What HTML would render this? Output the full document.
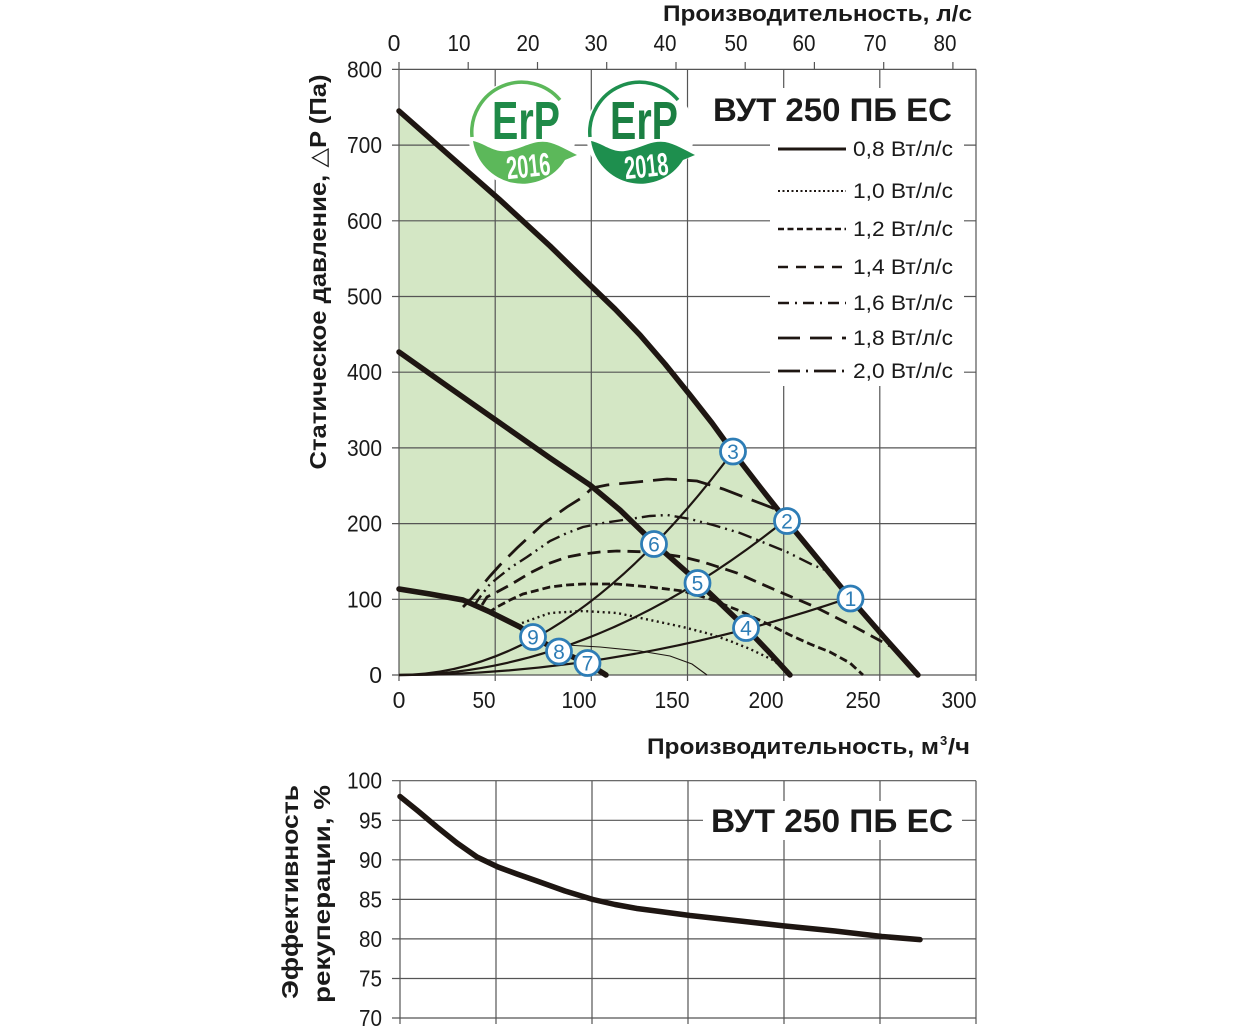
<!DOCTYPE html>
<html><head><meta charset="utf-8"><style>
html,body{margin:0;padding:0;background:#fff;}
svg{display:block;}
text{font-family:"Liberation Sans","DejaVu Sans",sans-serif;}
</style></head><body>
<svg width="1256" height="1027" viewBox="0 0 1256 1027" xmlns="http://www.w3.org/2000/svg">
<rect x="0" y="0" width="1256" height="1027" fill="#fff"/>

<!-- ===== MAIN CHART ===== -->
<path d="M399,675 L399,111 L450,156 L500,200 L550,246 L590,285 L615,309 L640,335 L665,364 L690,395 L712,423 L733,452 L760,487 L786,520 L818,559 L850,598 L884,637 L918,675 Z" fill="#d4e7c5"/>

<g stroke="#555" stroke-width="1.2" fill="none">
  <line x1="392" y1="69.4" x2="976" y2="69.4"/>
  <line x1="392" y1="145.1" x2="976" y2="145.1"/>
  <line x1="392" y1="220.8" x2="976" y2="220.8"/>
  <line x1="392" y1="296.5" x2="976" y2="296.5"/>
  <line x1="392" y1="372.2" x2="976" y2="372.2"/>
  <line x1="392" y1="447.9" x2="976" y2="447.9"/>
  <line x1="392" y1="523.6" x2="976" y2="523.6"/>
  <line x1="392" y1="599.3" x2="976" y2="599.3"/>
  <line x1="392" y1="675" x2="976" y2="675"/>
  <line x1="399" y1="69.4" x2="399" y2="681"/>
  <line x1="495.2" y1="69.4" x2="495.2" y2="681"/>
  <line x1="591.3" y1="69.4" x2="591.3" y2="681"/>
  <line x1="687.5" y1="69.4" x2="687.5" y2="681"/>
  <line x1="783.7" y1="69.4" x2="783.7" y2="681"/>
  <line x1="879.8" y1="69.4" x2="879.8" y2="681"/>
  <line x1="976" y1="69.4" x2="976" y2="681"/>
  <line x1="399" y1="62" x2="399" y2="69.4"/>
  <line x1="468.2" y1="62" x2="468.2" y2="69.4"/>
  <line x1="537.5" y1="62" x2="537.5" y2="69.4"/>
  <line x1="606.7" y1="62" x2="606.7" y2="69.4"/>
  <line x1="676" y1="62" x2="676" y2="69.4"/>
  <line x1="745.2" y1="62" x2="745.2" y2="69.4"/>
  <line x1="814.4" y1="62" x2="814.4" y2="69.4"/>
  <line x1="883.7" y1="62" x2="883.7" y2="69.4"/>
  <line x1="952.9" y1="62" x2="952.9" y2="69.4"/>
</g>

<rect x="704" y="88" width="258" height="42" fill="#fff"/>
<rect x="770" y="128" width="194" height="258" fill="#fff"/>

<!-- ErP logo 2016 -->
<g transform="translate(522,133)">
  <circle cx="0" cy="0" r="54" fill="#fff"/>
  <path d="M-50,4 A50 50 0 0 1 38,-33" fill="none" stroke="#5cb85a" stroke-width="3.5"/>
  <path d="M-49,8 C-38,10 -28,20 -15,18 C0,16 10,7 25,9 C35,11 45,17 55,22 L43,27 A50 50 0 0 1 -49,8 Z" fill="#5cb85a"/>
  <text x="4" y="6" text-anchor="middle" font-size="54" font-weight="bold" fill="#1f8a48" textLength="68" lengthAdjust="spacingAndGlyphs">ErP</text>
  <text x="6" y="44" text-anchor="middle" font-size="32" font-weight="bold" fill="#fff" textLength="44" lengthAdjust="spacingAndGlyphs" transform="rotate(-6 6 30)">2016</text>
</g>
<!-- ErP logo 2018 -->
<g transform="translate(640,133)">
  <circle cx="0" cy="0" r="54" fill="#fff"/>
  <path d="M-50,4 A50 50 0 0 1 38,-33" fill="none" stroke="#1e8f4e" stroke-width="3.5"/>
  <path d="M-49,8 C-38,10 -28,20 -15,18 C0,16 10,7 25,9 C35,11 45,17 55,22 L43,27 A50 50 0 0 1 -49,8 Z" fill="#1e8f4e"/>
  <text x="4" y="6" text-anchor="middle" font-size="54" font-weight="bold" fill="#1b7f42" textLength="68" lengthAdjust="spacingAndGlyphs">ErP</text>
  <text x="6" y="44" text-anchor="middle" font-size="32" font-weight="bold" fill="#fff" textLength="44" lengthAdjust="spacingAndGlyphs" transform="rotate(-6 6 30)">2018</text>
</g>

<!-- system curves -->
<g fill="none" stroke="#1e1612" stroke-width="2.2">
  <path d="M399,675 Q566,675 733.1,451.4"/>
  <path d="M399,675 Q592.3,675 785.6,519.9"/>
  <path d="M399,675 Q624.5,675 850,597.6"/>
  <polyline stroke-width="1.1" points="566,645 600,647 640,651 670,656 692,664 707,675"/>
</g>

<!-- specific power curves -->
<g fill="none" stroke="#1e1612">
  <polyline stroke-width="2.4" stroke-dasharray="2 3.5" points="522,623 550,613 583,611 617,613 650,620 683,627 710,634 730,641 750,649 773,660 783,668 788,674"/>
  <polyline stroke-width="2.8" stroke-dasharray="8 4" points="488,613 497,607 510,600 523,594 550,587 567,585 583,584 617,584 650,587 683,591 710,599 740,611 770,625 790,635 810,644 830,652 850,663 863,675"/>
  <polyline stroke-width="2.8" stroke-dasharray="13 7" points="482,605 487,597 497,592 510,585 530,573 550,563 567,557 583,554 600,552 617,551 650,552 683,557 703,562 737,573 757,582 780,592 813,606 853,626 890,646"/>
  <polyline stroke-width="2.4" stroke-dasharray="14 5 2 5 2 5" points="473,607 480,597 490,584 500,576 510,568 527,557 550,541 567,533 583,527 603,523 623,520 650,516 667,515 690,519 713,525 740,533 787,552 813,565 830,572"/>
  <polyline stroke-width="2.8" stroke-dasharray="24 10" points="463,607 472,598 480,588 490,576 500,565 517,548 543,524 567,507 583,497 592,488 607,485 637,482 667,479 697,481 723,489 757,502 778,510"/>
</g>

<!-- thick fan curves -->
<g fill="none" stroke="#1e1612" stroke-width="5.5" stroke-linejoin="round" stroke-linecap="round">
  <polyline points="399,111 450,156 500,200 550,246 590,285 615,309 640,335 665,364 690,395 712,423 733,452 760,487 786,520 818,559 850,598 884,637 918,675"/>
  <polyline points="399,352 450,388 500,423 550,458 590,485 620,510 654,543 698,582 746,628 768,651 790,675"/>
  <polyline points="399,589 430,594 463,600 490,612 520,627 533,637 559,651 587,663 606,675"/>
</g>

<!-- numbered markers -->
<g font-size="21" fill="#2e7db6" text-anchor="middle">
  <g><circle cx="850.5" cy="598.5" r="12.5" fill="#fff" stroke="#2e7db6" stroke-width="2.8"/><text x="850.5" y="606">1</text></g>
  <g><circle cx="787" cy="521" r="12.5" fill="#fff" stroke="#2e7db6" stroke-width="2.8"/><text x="787" y="528.5">2</text></g>
  <g><circle cx="733" cy="451.5" r="12.5" fill="#fff" stroke="#2e7db6" stroke-width="2.8"/><text x="733" y="459">3</text></g>
  <g><circle cx="746" cy="628" r="12.5" fill="#fff" stroke="#2e7db6" stroke-width="2.8"/><text x="746" y="635.5">4</text></g>
  <g><circle cx="697.5" cy="583" r="12.5" fill="#fff" stroke="#2e7db6" stroke-width="2.8"/><text x="697.5" y="590.5">5</text></g>
  <g><circle cx="654" cy="544" r="12.5" fill="#fff" stroke="#2e7db6" stroke-width="2.8"/><text x="654" y="551.5">6</text></g>
  <g><circle cx="587.5" cy="663" r="12.5" fill="#fff" stroke="#2e7db6" stroke-width="2.8"/><text x="587.5" y="670.5">7</text></g>
  <g><circle cx="559" cy="651.5" r="12.5" fill="#fff" stroke="#2e7db6" stroke-width="2.8"/><text x="559" y="659">8</text></g>
  <g><circle cx="533" cy="637" r="12.5" fill="#fff" stroke="#2e7db6" stroke-width="2.8"/><text x="533" y="644.5">9</text></g>
</g>

<!-- title & legend -->
<text x="713" y="121" font-size="32" font-weight="bold" fill="#1a1a1a" textLength="239" lengthAdjust="spacingAndGlyphs">ВУТ 250 ПБ ЕС</text>
<g stroke="#1e1612" fill="none">
  <line x1="778" y1="149" x2="846" y2="149" stroke-width="3"/>
  <line x1="778" y1="191" x2="846" y2="191" stroke-width="2" stroke-dasharray="2 2.5"/>
  <line x1="778" y1="229" x2="846" y2="229" stroke-width="2.6" stroke-dasharray="6 3.5"/>
  <line x1="778" y1="267" x2="846" y2="267" stroke-width="2.6" stroke-dasharray="10 8"/>
  <line x1="778" y1="303" x2="846" y2="303" stroke-width="2.6" stroke-dasharray="11 6 2 6"/>
  <line x1="778" y1="338" x2="846" y2="338" stroke-width="2.8" stroke-dasharray="22 10"/>
  <line x1="778" y1="371" x2="846" y2="371" stroke-width="2.8" stroke-dasharray="22 6 2 6"/>
</g>
<g font-size="21" fill="#1a1a1a">
  <text x="853" y="156" textLength="100" lengthAdjust="spacingAndGlyphs">0,8 Вт/л/с</text>
  <text x="853" y="198" textLength="100" lengthAdjust="spacingAndGlyphs">1,0 Вт/л/с</text>
  <text x="853" y="236" textLength="100" lengthAdjust="spacingAndGlyphs">1,2 Вт/л/с</text>
  <text x="853" y="274" textLength="100" lengthAdjust="spacingAndGlyphs">1,4 Вт/л/с</text>
  <text x="853" y="310" textLength="100" lengthAdjust="spacingAndGlyphs">1,6 Вт/л/с</text>
  <text x="853" y="345" textLength="100" lengthAdjust="spacingAndGlyphs">1,8 Вт/л/с</text>
  <text x="853" y="378" textLength="100" lengthAdjust="spacingAndGlyphs">2,0 Вт/л/с</text>
</g>

<!-- axis titles -->
<text x="663" y="21" font-size="22" font-weight="bold" fill="#1a1a1a" textLength="309" lengthAdjust="spacingAndGlyphs">Производительность, л/с</text>
<text transform="translate(326,272) rotate(-90)" text-anchor="middle" font-size="23" font-weight="bold" fill="#1a1a1a" textLength="395" lengthAdjust="spacingAndGlyphs">Статическое давление, △P (Па)</text>
<text x="647" y="754" font-size="22" font-weight="bold" fill="#1a1a1a" textLength="292" lengthAdjust="spacingAndGlyphs">Производительность, м</text>
<text x="940" y="745" font-size="13" font-weight="bold" fill="#1a1a1a">3</text>
<text x="948" y="754" font-size="22" font-weight="bold" fill="#1a1a1a" textLength="22" lengthAdjust="spacingAndGlyphs">/ч</text>

<!-- top tick labels (l/s) -->
<g font-size="23" fill="#1a1a1a" text-anchor="middle">
  <text x="394" y="51">0</text>
  <text x="459" y="51" textLength="23" lengthAdjust="spacingAndGlyphs">10</text>
  <text x="528" y="51" textLength="23" lengthAdjust="spacingAndGlyphs">20</text>
  <text x="596" y="51" textLength="23" lengthAdjust="spacingAndGlyphs">30</text>
  <text x="665" y="51" textLength="23" lengthAdjust="spacingAndGlyphs">40</text>
  <text x="736" y="51" textLength="23" lengthAdjust="spacingAndGlyphs">50</text>
  <text x="804" y="51" textLength="23" lengthAdjust="spacingAndGlyphs">60</text>
  <text x="875" y="51" textLength="23" lengthAdjust="spacingAndGlyphs">70</text>
  <text x="945" y="51" textLength="23" lengthAdjust="spacingAndGlyphs">80</text>
</g>
<!-- bottom tick labels (m3/h) -->
<g font-size="23" fill="#1a1a1a" text-anchor="middle">
  <text x="399" y="708">0</text>
  <text x="484" y="708" textLength="23" lengthAdjust="spacingAndGlyphs">50</text>
  <text x="579" y="708" textLength="35" lengthAdjust="spacingAndGlyphs">100</text>
  <text x="672" y="708" textLength="35" lengthAdjust="spacingAndGlyphs">150</text>
  <text x="766" y="708" textLength="35" lengthAdjust="spacingAndGlyphs">200</text>
  <text x="863" y="708" textLength="35" lengthAdjust="spacingAndGlyphs">250</text>
  <text x="959" y="708" textLength="35" lengthAdjust="spacingAndGlyphs">300</text>
</g>
<!-- left tick labels (Pa) -->
<g font-size="23" fill="#1a1a1a" text-anchor="end">
  <text x="382" y="77.4" textLength="35" lengthAdjust="spacingAndGlyphs">800</text>
  <text x="382" y="153.1" textLength="35" lengthAdjust="spacingAndGlyphs">700</text>
  <text x="382" y="228.8" textLength="35" lengthAdjust="spacingAndGlyphs">600</text>
  <text x="382" y="304.5" textLength="35" lengthAdjust="spacingAndGlyphs">500</text>
  <text x="382" y="380.2" textLength="35" lengthAdjust="spacingAndGlyphs">400</text>
  <text x="382" y="455.9" textLength="35" lengthAdjust="spacingAndGlyphs">300</text>
  <text x="382" y="531.6" textLength="35" lengthAdjust="spacingAndGlyphs">200</text>
  <text x="382" y="607.3" textLength="35" lengthAdjust="spacingAndGlyphs">100</text>
  <text x="382" y="683">0</text>
</g>

<!-- ===== BOTTOM CHART ===== -->
<g stroke="#555" stroke-width="1.2" fill="none">
  <line x1="392" y1="780.7" x2="976" y2="780.7"/>
  <line x1="392" y1="820.3" x2="976" y2="820.3"/>
  <line x1="392" y1="859.8" x2="976" y2="859.8"/>
  <line x1="392" y1="899.4" x2="976" y2="899.4"/>
  <line x1="392" y1="938.9" x2="976" y2="938.9"/>
  <line x1="392" y1="978.5" x2="976" y2="978.5"/>
  <line x1="392" y1="1018" x2="976" y2="1018"/>
  <line x1="400" y1="780.7" x2="400" y2="1024"/>
  <line x1="496" y1="780.7" x2="496" y2="1024"/>
  <line x1="592" y1="780.7" x2="592" y2="1024"/>
  <line x1="688" y1="780.7" x2="688" y2="1024"/>
  <line x1="784" y1="780.7" x2="784" y2="1024"/>
  <line x1="880" y1="780.7" x2="880" y2="1024"/>
  <line x1="976" y1="780.7" x2="976" y2="1024"/>
</g>
<rect x="703" y="801" width="259" height="39" fill="#fff"/>
<text x="711" y="832" font-size="32" font-weight="bold" fill="#1a1a1a" textLength="242" lengthAdjust="spacingAndGlyphs">ВУТ 250 ПБ ЕС</text>
<polyline fill="none" stroke="#1e1612" stroke-width="5.5" stroke-linejoin="round" stroke-linecap="round" points="400,796.5 418,811 437,827 457,843 477,857 498,867 517,874 537,881 565,891 593,899.5 615,904.5 637,908.5 660,911.5 690,915.5 740,921 785,926 835,931 882,936.5 920,939.6"/>
<g font-size="23" fill="#1a1a1a" text-anchor="end">
  <text x="382" y="788.7" textLength="35" lengthAdjust="spacingAndGlyphs">100</text>
  <text x="382" y="828.3" textLength="23" lengthAdjust="spacingAndGlyphs">95</text>
  <text x="382" y="867.8" textLength="23" lengthAdjust="spacingAndGlyphs">90</text>
  <text x="382" y="907.4" textLength="23" lengthAdjust="spacingAndGlyphs">85</text>
  <text x="382" y="946.9" textLength="23" lengthAdjust="spacingAndGlyphs">80</text>
  <text x="382" y="986.5" textLength="23" lengthAdjust="spacingAndGlyphs">75</text>
  <text x="382" y="1026" textLength="23" lengthAdjust="spacingAndGlyphs">70</text>
</g>
<text transform="translate(298,892) rotate(-90)" text-anchor="middle" font-size="23" font-weight="bold" fill="#1a1a1a" textLength="214" lengthAdjust="spacingAndGlyphs">Эффективность</text>
<text transform="translate(330,894) rotate(-90)" text-anchor="middle" font-size="23" font-weight="bold" fill="#1a1a1a" textLength="218" lengthAdjust="spacingAndGlyphs">рекуперации, %</text>
</svg>
</body></html>
